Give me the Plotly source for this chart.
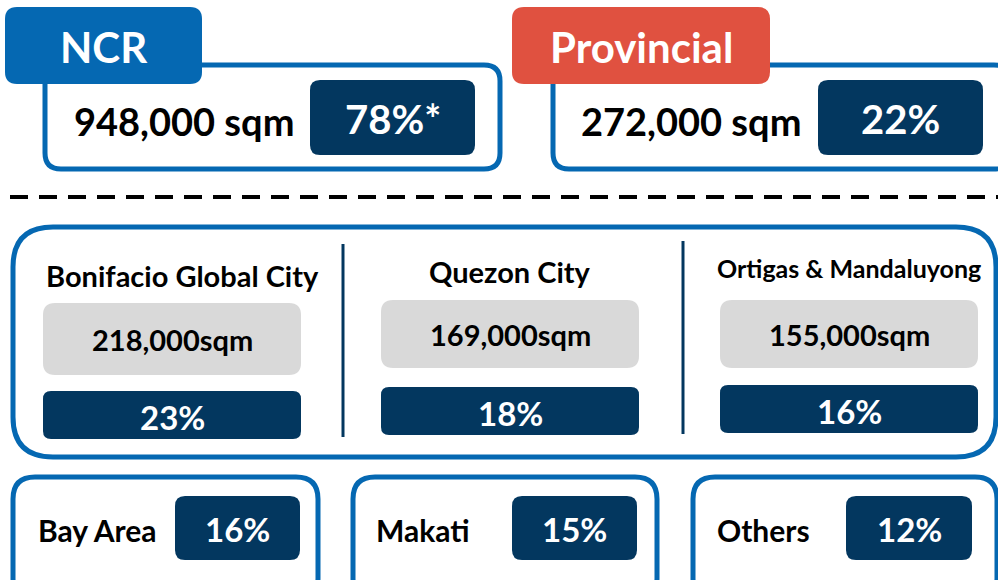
import plotly.graph_objects as go

# data
regions = ["NCR", "Provincial"]
region_area = ["948,000 sqm", "272,000 sqm"]
region_share = ["78%*", "22%"]

ncr_districts = ["Bonifacio Global City", "Quezon City", "Ortigas & Mandaluyong"]
district_area = ["218,000sqm", "169,000sqm", "155,000sqm"]
district_share = ["23%", "18%", "16%"]

other_districts = ["Bay Area", "Makati", "Others"]
other_share = ["16%", "15%", "12%"]

BLUE = "#0568B2"
NAVY = "#03375F"
RED = "#E05140"
GRAY = "#D9D9D9"
FONT = "Lato"

W, H = 998, 580


def rrect(x0, y0, x1, y1, r):
    return (f"M {x0+r},{y0} L {x1-r},{y0} Q {x1},{y0} {x1},{y0+r} "
            f"L {x1},{y1-r} Q {x1},{y1} {x1-r},{y1} L {x0+r},{y1} "
            f"Q {x0},{y1} {x0},{y1-r} L {x0},{y0+r} Q {x0},{y0} {x0+r},{y0} Z")


shapes = []
annos = []


def box(x0, y0, x1, y1, r, fill=None, line=None, lw=0):
    shapes.append(dict(type="path", path=rrect(x0, y0, x1, y1, r), xref="x", yref="y",
                        fillcolor=fill if fill else "rgba(0,0,0,0)",
                        line=dict(color=line if line else "rgba(0,0,0,0)", width=lw)))


def text(x, y, s, size, color="black"):
    annos.append(dict(x=x, y=y, xref="x", yref="y", text=f"<b>{s}</b>", showarrow=False,
                      font=dict(family=FONT, size=size, color=color),
                      xanchor="center", yanchor="middle"))


# top: NCR and Provincial
tops = [
    dict(tag=(5, 7, 202, 84), tagc=BLUE, outer=(45, 65, 500, 169), pct=(310, 80, 475, 155), val_x=184),
    dict(tag=(512, 7, 770, 84), tagc=RED, outer=(553, 65, 1010, 169), pct=(818, 80, 983, 155), val_x=691),
]
for i, t in enumerate(tops):
    box(*t["outer"], 16, fill="white", line=BLUE, lw=5)
    box(*t["tag"], 12, fill=t["tagc"])
    box(*t["pct"], 10, fill=NAVY)
    tx0, ty0, tx1, ty1 = t["tag"]
    text((tx0 + tx1) / 2, 47, regions[i], 42, "white")
    text(t["val_x"], 121, region_area[i], 38)
    px0, py0, px1, py1 = t["pct"]
    text((px0 + px1) / 2, 119, region_share[i], 40, "white")

# dashed separator
shapes.append(dict(type="line", x0=10, x1=998, y0=197, y1=197, xref="x", yref="y",
                   line=dict(color="black", width=4, dash="18px,11px")))

# NCR district panel
box(13, 227, 996, 457, 40, fill="white", line=BLUE, lw=5)
for x, y0, y1 in [(343, 244, 437), (683, 241, 434)]:
    shapes.append(dict(type="line", x0=x, x1=x, y0=y0, y1=y1, xref="x", yref="y",
                       line=dict(color=NAVY, width=3)))

cols = [
    dict(x0=43, x1=301, tx=182, ty=275, g=(303, 375), p=(391, 439), ts=29),
    dict(x0=381, x1=639, tx=510, ty=271, g=(300, 368), p=(387, 435), ts=29),
    dict(x0=720, x1=978, tx=849, ty=268, g=(300, 368), p=(385, 433), ts=25),
]
for i, c in enumerate(cols):
    cx = (c["x0"] + c["x1"]) / 2
    text(c["tx"], c["ty"], ncr_districts[i], c["ts"])
    box(c["x0"], c["g"][0], c["x1"], c["g"][1], 12, fill=GRAY)
    text(cx, (c["g"][0] + c["g"][1]) / 2, district_area[i], 29)
    box(c["x0"], c["p"][0], c["x1"], c["p"][1], 8, fill=NAVY)
    text(cx, (c["p"][0] + c["p"][1]) / 2 + 2, district_share[i], 33, "white")

# other districts
bottoms = [
    dict(outer=(13, 477, 318, 600), pct=(175, 496, 300, 560), lx=97),
    dict(outer=(353, 477, 657, 600), pct=(512, 496, 637, 560), lx=423),
    dict(outer=(693, 477, 997, 600), pct=(846, 496, 972, 560), lx=763),
]
for i, b in enumerate(bottoms):
    box(*b["outer"], 22, fill="white", line=BLUE, lw=5)
    box(*b["pct"], 10, fill=NAVY)
    text(b["lx"], 530, other_districts[i], 30)
    px0, py0, px1, py1 = b["pct"]
    text((px0 + px1) / 2, 529, other_share[i], 33, "white")

fig = go.Figure()
fig.add_trace(go.Scatter(x=[0, W], y=[0, H], mode="markers", marker=dict(opacity=0),
                         hoverinfo="skip", showlegend=False))
fig.update_layout(
    width=W, height=H, margin=dict(l=0, r=0, t=0, b=0),
    paper_bgcolor="white", plot_bgcolor="white",
    xaxis=dict(range=[0, W], visible=False, fixedrange=True),
    yaxis=dict(range=[H, 0], visible=False, fixedrange=True),
    shapes=shapes, annotations=annos, showlegend=False,
)
# drop the default page margin so the figure sits at the window's top-left
fig.write_html("out.html", config=dict(displayModeBar=False),
               post_script="document.body.style.margin='0';document.body.style.overflow='hidden';")
